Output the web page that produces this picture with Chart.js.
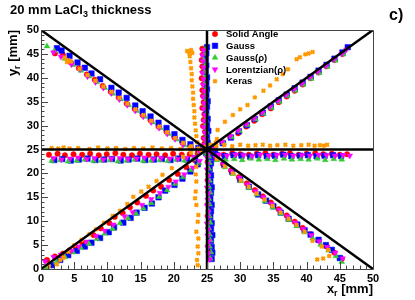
<!DOCTYPE html>
<html>
<head>
<meta charset="utf-8">
<script src="https://cdn.jsdelivr.net/npm/chart.js@4.4.1/dist/chart.umd.min.js"></script>
<style>
  html, body { margin: 0; padding: 0; background: #fff; }
  canvas { display: block; }
</style>
</head>
<body>
<canvas id="chart" width="415" height="300"></canvas>
<script>
// reconstructed positions [x, y] in mm
const solidAngle = [
  [1.2,23.9],[2.5,24.1],[3.6,23.8],[4.9,24.0],[6.2,23.9],[7.4,24.1],[8.7,23.8],[9.9,24.0],[11.2,24.2],[12.4,23.9],[13.7,23.8],[14.9,24.1],[16.2,23.9],[17.4,24.0],[18.7,23.8],[19.9,24.1],[21.2,23.9],[22.4,24.0],[23.6,24.2],
  [26.3,24.1],[27.5,23.9],[28.8,24.2],[30.0,24.0],[31.3,23.9],[32.5,24.1],[33.8,24.2],[35.0,23.9],[36.3,24.1],[37.5,24.2],[38.8,23.9],[40.0,24.1],[41.3,24.2],[42.5,24.0],[43.8,24.1],[45.0,23.9],[46.1,24.0],
  [24.6,26.2],[24.5,27.4],[24.7,28.7],[24.4,29.9],[24.5,31.2],[24.6,32.4],[24.3,33.7],[24.5,34.9],[24.4,36.2],[24.3,37.4],[24.5,38.7],[24.2,39.9],[24.4,41.2],[24.3,42.4],[24.2,43.7],[24.4,44.9],[24.3,46.1],
  [25.2,23.6],[25.1,22.4],[25.3,21.1],[25.2,19.9],[25.1,18.6],[25.3,17.4],[25.2,16.1],[25.4,14.9],[25.2,13.6],[25.3,12.4],[25.1,11.1],[25.3,9.9],[25.2,8.6],[25.4,7.4],[25.3,6.1],[25.2,4.9],[25.4,3.6],[25.3,2.4],
  [26.0,25.4],[27.3,26.4],[28.5,27.6],[29.7,28.4],[30.9,29.8],[32.1,31.0],[33.3,32.4],[34.6,33.6],[35.8,34.9],[37.0,36.1],[38.2,37.3],[39.4,38.6],[40.6,39.9],[41.8,41.1],[43.0,42.4],[44.2,43.7],[45.4,45.0],
  [0.9,1.9],[2.1,2.6],[3.3,3.2],[4.3,3.9],[5.2,4.6],[6.2,5.5],[7.9,7.1],[9.0,8.5],[10.3,9.6],[11.1,10.9],[12.3,11.7],[13.4,12.9],[14.5,13.9],[15.8,15.3],[16.9,16.4],[18.1,17.2],[19.3,18.6],[20.6,19.9],[21.9,21.3],[23.2,22.7],
  [2.1,45.1],[3.3,44.8],[4.5,43.2],[5.7,42.0],[6.9,40.7],[8.1,39.6],[9.3,38.3],[10.5,37.1],[11.7,35.9],[12.9,34.6],[14.1,33.5],[15.3,32.2],[16.5,31.1],[17.7,29.8],[18.9,28.7],[20.1,27.5],[21.3,26.4],[22.5,25.6],[23.7,24.9],
  [26.2,23.4],[27.4,22.0],[28.6,20.6],[29.8,19.2],[31.0,17.9],[32.2,16.5],[33.4,15.2],[34.6,13.9],[35.8,12.5],[37.0,11.2],[38.2,9.9],[39.4,8.6],[40.6,7.3],[41.8,6.0],[43.0,4.7],[44.2,3.4],[45.3,2.1],
  [24.8,24.6],[25.3,24.4],[24.6,25.3]
];
const gauss = [
  [2.0,22.8],[3.2,23.0],[4.5,22.7],[5.7,22.9],[7.0,23.1],[8.2,22.8],[9.5,22.9],[10.7,23.0],[12.0,22.7],[13.2,22.9],[14.5,23.1],[15.7,22.8],[17.0,22.9],[18.2,23.0],[19.5,22.8],[20.7,23.1],[22.0,22.9],[23.2,23.2],
  [26.5,23.8],[27.7,23.6],[29.0,23.8],[30.2,23.7],[31.5,23.5],[32.7,23.8],[34.0,23.6],[35.2,23.7],[36.5,23.9],[37.7,23.6],[39.0,23.7],[40.2,23.8],[41.5,23.6],[42.7,23.7],[44.0,23.8],[45.2,23.6],
  [25.1,26.4],[25.0,27.6],[25.2,28.9],[25.0,30.1],[25.1,31.4],[24.9,32.6],[25.0,33.9],[25.1,35.1],[24.9,36.4],[25.0,37.6],[24.9,38.9],[25.0,40.1],[24.8,41.4],[24.9,42.6],[24.8,43.9],[24.9,45.1],[25.0,46.4],
  [25.5,23.4],[25.6,22.1],[25.4,20.9],[25.6,19.6],[25.5,18.4],[25.7,17.1],[25.6,15.9],[25.5,14.6],[25.7,13.4],[25.6,12.1],[25.5,10.9],[25.7,9.6],[25.6,8.4],[25.8,7.1],[25.6,5.9],[25.7,4.6],[25.8,3.4],[25.7,2.1],
  [26.2,25.0],[27.4,26.3],[28.6,27.5],[29.8,28.8],[31.0,30.1],[32.2,31.4],[33.4,32.7],[34.6,34.0],[35.8,35.3],[37.0,36.5],[38.2,37.8],[39.4,39.0],[40.6,40.2],[41.8,41.5],[43.0,42.7],[44.2,44.0],[45.4,45.3],[46.2,46.4],
  [1.6,0.8],[2.9,1.9],[4.1,2.9],[5.4,3.8],[6.6,4.7],[7.6,5.5],[8.9,6.5],[10.2,7.7],[11.0,8.7],[12.4,9.7],[13.5,10.7],[14.4,11.8],[15.6,12.8],[16.7,13.7],[17.7,15.0],[18.7,16.4],[20.1,17.6],[21.3,18.9],[22.5,20.4],[23.6,21.9],
  [2.4,46.2],[3.1,45.7],[4.3,44.6],[5.5,43.2],[6.6,42.1],[7.6,40.9],[8.9,39.7],[10.6,37.9],[11.7,36.9],[12.9,35.8],[14.2,34.2],[15.3,33.0],[16.5,31.9],[17.7,30.6],[18.9,29.5],[20.1,28.2],[21.3,27.0],[22.5,26.1],[23.7,25.3],
  [26.4,23.2],[27.6,21.8],[28.8,20.3],[30.0,18.7],[31.3,17.2],[32.7,15.6],[33.9,14.3],[35.0,13.1],[36.1,11.8],[37.3,10.5],[38.6,9.3],[39.7,8.1],[40.6,7.2],[41.8,6.1],[42.9,5.0],[43.8,4.0],[45.0,2.3],
  [25.2,25.1],[24.9,24.2]
];
const gaussRho = [
  [1.6,22.6],[2.9,22.8],[4.1,22.5],[5.4,22.7],[6.6,22.9],[7.9,22.6],[9.1,22.7],[10.4,22.8],[11.6,22.5],[12.9,22.7],[14.1,22.9],[15.4,22.6],[16.6,22.7],[17.9,22.8],[19.1,22.6],[20.4,22.9],[21.6,22.7],[22.9,23.0],
  [26.6,23.1],[27.8,22.9],[29.1,23.0],[30.3,22.8],[31.6,23.1],[32.8,22.9],[34.1,23.0],[35.3,22.8],[36.6,23.1],[37.8,22.9],[39.1,23.0],[40.3,22.9],[41.6,23.1],[42.8,22.8],[44.1,23.0],[45.3,22.9],
  [24.9,26.3],[24.8,27.5],[24.9,28.8],[24.7,30.0],[24.8,31.3],[24.9,32.5],[24.7,33.8],[24.8,35.0],[24.7,36.3],[24.8,37.5],[24.6,38.8],[24.7,40.0],[24.6,41.3],[24.7,42.5],[24.5,43.8],[24.6,45.0],[24.7,45.9],
  [25.3,23.5],[25.4,22.2],[25.3,21.0],[25.2,19.7],[25.4,18.5],[25.3,17.2],[25.5,16.0],[25.3,14.7],[25.4,13.5],[25.2,12.2],[25.4,11.0],[25.5,9.7],[25.3,8.5],[25.4,7.2],[25.5,6.0],[25.4,4.7],[25.6,3.5],[25.5,2.2],
  [26.3,25.2],[27.5,26.4],[28.7,27.6],[29.9,28.9],[31.1,30.1],[32.3,31.3],[33.5,32.5],[34.7,33.7],[35.9,35.0],[37.1,36.2],[38.3,37.3],[39.5,38.6],[40.7,39.8],[41.9,41.0],[43.1,42.3],[44.3,43.6],[45.5,44.9],
  [0.9,0.3],[2.3,1.4],[3.6,2.5],[4.8,3.5],[6.0,4.4],[7.2,5.3],[8.4,6.3],[9.6,7.4],[10.8,8.4],[11.9,9.6],[13.1,10.6],[14.3,11.6],[15.4,12.7],[16.6,13.8],[17.8,15.1],[19.0,16.5],[20.2,17.8],[21.4,19.2],[22.6,20.7],[23.8,22.2],
  [0.9,46.6],[2.0,45.6],[3.6,44.0],[4.8,42.7],[6.0,41.5],[7.2,40.3],[8.4,39.1],[9.6,37.9],[10.8,36.7],[12.0,35.5],[13.2,34.3],[14.4,33.1],[15.6,31.9],[16.8,30.7],[18.0,29.5],[19.2,28.3],[20.4,27.1],[21.6,25.9],[22.8,25.1],[23.9,24.5],
  [26.5,22.8],[27.7,21.3],[28.9,19.9],[30.1,18.4],[31.3,17.0],[32.5,15.6],[33.7,14.2],[34.9,12.9],[36.1,11.6],[37.3,10.3],[38.5,9.0],[39.7,7.7],[40.9,6.4],[42.1,5.1],[43.3,3.9],[44.4,2.7],[45.3,1.5],
  [25.0,24.0],[24.5,24.4]
];
const lorentzRho = [
  [1.9,23.2],[3.1,22.9],[4.4,23.1],[5.6,23.3],[6.9,23.0],[8.1,23.2],[9.4,22.9],[10.6,23.1],[11.9,23.2],[13.1,23.0],[14.4,23.1],[15.6,23.3],[16.9,23.0],[18.1,23.2],[19.4,23.1],[20.6,23.0],[21.9,23.2],[23.1,23.4],
  [26.8,23.9],[28.0,23.7],[29.3,23.9],[30.5,23.8],[31.8,23.6],[33.0,23.9],[34.3,23.7],[35.5,23.8],[36.8,23.9],[38.0,23.7],[39.3,23.8],[40.5,23.7],[41.8,23.9],[43.0,23.8],[44.3,23.7],[45.5,23.8],[46.5,23.7],
  [24.7,26.0],[24.6,27.2],[24.7,28.5],[24.5,29.7],[24.6,31.0],[24.7,32.2],[24.5,33.5],[24.6,34.7],[24.4,36.0],[24.6,37.2],[24.4,38.5],[24.5,39.7],[24.3,41.0],[24.5,42.2],[24.4,43.5],[24.3,44.7],[24.5,45.8],
  [25.0,23.3],[25.1,22.0],[25.0,20.8],[25.2,19.5],[25.1,18.3],[25.0,17.0],[25.2,15.8],[25.1,14.5],[25.0,13.3],[25.2,12.0],[25.1,10.8],[25.0,9.5],[25.2,8.3],[25.1,7.0],[25.3,5.8],[25.1,4.5],[25.2,3.3],[25.4,2.0],
  [26.1,25.3],[27.3,26.6],[28.5,27.8],[29.7,29.0],[30.9,30.3],[32.1,31.5],[33.3,32.7],[34.5,34.0],[35.7,35.2],[36.9,36.4],[38.1,37.6],[39.3,38.8],[40.5,40.1],[41.7,41.3],[42.9,42.5],[44.1,43.8],[45.3,45.0],[46.0,45.9],
  [0.6,1.6],[1.9,2.5],[3.0,3.0],[4.6,3.8],[5.7,4.7],[6.8,5.7],[8.3,6.9],[9.6,8.0],[10.9,9.3],[12.6,11.0],[13.8,11.9],[15.2,13.4],[16.6,14.6],[17.9,15.9],[19.2,17.2],[20.3,18.3],[21.6,19.8],[22.9,21.2],[23.9,22.6],
  [1.9,45.3],[3.0,44.4],[4.6,42.8],[5.9,41.8],[7.0,40.3],[8.2,39.1],[9.4,37.9],[10.6,36.8],[11.8,35.5],[13.0,34.3],[14.2,33.1],[15.4,31.9],[16.6,30.7],[17.8,29.5],[19.0,28.3],[20.2,27.2],[21.4,26.0],[22.6,25.2],[23.8,24.7],
  [26.3,23.3],[27.5,21.9],[28.7,20.5],[29.9,19.1],[31.1,17.7],[32.3,16.3],[33.5,15.0],[34.7,13.6],[35.9,12.3],[37.1,11.0],[38.3,9.7],[39.5,8.4],[40.7,7.1],[41.9,5.8],[43.1,4.6],[44.3,3.4],[45.4,2.2],
  [24.6,24.8],[25.4,24.5]
];
const keras = [
  [1.6,25.3],[2.6,25.2],[3.4,25.4],[4.3,25.2],[5.6,25.3],[7.3,25.1],[8.6,25.4],[10.0,25.2],[11.3,25.3],[12.7,25.1],[14.0,25.3],[15.4,25.2],[16.8,25.4],[18.2,25.2],[19.6,25.3],[21.0,25.1],[22.4,25.3],[23.7,25.2],
  [26.4,25.8],[27.6,25.9],[28.8,25.7],[30.0,26.0],[31.2,25.8],[32.3,25.9],[33.4,26.0],[34.5,25.8],[35.6,25.9],[36.8,26.0],[38.0,25.8],[39.2,25.9],[40.3,26.0],[41.2,25.8],[42.0,25.9],[42.6,25.8],[43.1,26.0],
  [23.5,26.5],[23.4,27.8],[23.3,29.0],[23.2,30.4],[23.1,31.7],[23.1,33.0],[23.0,34.3],[22.9,35.6],[22.9,36.9],[22.8,38.2],[22.7,39.5],[22.7,40.8],[22.6,42.0],[22.5,43.3],[22.4,44.5],[22.3,45.3],[22.0,45.6],[22.6,45.8],[22.8,45.2],
  [23.4,21.4],[23.3,19.8],[23.4,18.3],[23.3,16.2],[23.2,14.8],[23.4,13.4],[23.7,11.3],[23.6,9.9],[23.4,7.8],[23.7,6.4],[23.6,4.7],[23.7,3.3],[23.5,1.9],[23.6,0.8],
  [26.3,26.4],[26.5,27.2],[26.6,29.1],[27.7,30.8],[28.9,32.2],[30.0,33.4],[31.1,34.3],[32.2,35.9],[33.5,37.3],[34.5,38.4],[35.5,39.7],[36.4,40.8],[37.2,41.8],[38.5,43.9],[39.0,44.3],[39.8,44.9],[40.3,45.1],[40.9,45.4],
  [1.2,0.6],[2.4,1.0],[2.9,1.9],[3.4,2.4],[4.1,3.6],[5.0,5.0],[6.1,6.1],[7.3,7.3],[8.3,8.3],[9.5,9.7],[10.8,11.1],[11.9,12.2],[13.0,13.6],[13.9,15.1],[15.1,16.2],[16.2,17.2],[17.4,18.4],[18.3,19.7],[19.7,21.1],[21.4,23.5],[22.6,24.3],
  [3.6,44.2],[4.1,43.7],[4.5,43.4],[3.9,43.3],[5.8,41.9],[7.0,40.6],[8.2,39.4],[9.4,38.2],[10.6,37.1],[11.8,35.8],[13.0,34.6],[14.2,33.4],[15.4,32.2],[16.6,31.0],[17.8,29.8],[19.0,28.6],[20.2,27.4],[21.4,26.4],[22.6,25.7],
  [26.5,23.0],[27.7,21.5],[28.9,20.0],[30.1,18.5],[31.3,17.2],[32.5,15.8],[33.7,14.5],[34.9,13.2],[36.1,11.8],[37.3,10.5],[38.5,9.2],[39.7,7.8],[40.9,5.9],[42.3,4.7],[43.3,4.0],[43.4,2.7],[42.5,2.2],[41.6,2.0],
  [24.8,25.6],[25.6,26.0],[24.2,24.8]
];
// black reference lines
const refLines = [
  [[0, 0], [50, 50]],
  [[0, 50], [50, 0]],
  [[0, 25], [50, 25]],
  [[25, 0], [25, 50]]
];
const tickValues = [0, 5, 10, 15, 20, 25, 30, 35, 40, 45, 50];

const FONT = '"Liberation Sans", Arial, Helvetica, sans-serif';
const pts = a => a.map(p => ({ x: p[0], y: p[1] }));

const series = [
  { label: 'Solid Angle', data: solidAngle, color: '#ff0000', style: 'circle', radius: 2.7, rotation: 0 },
  { label: 'Gauss', data: gauss, color: '#0000ff', style: 'rect', radius: 3.9, rotation: 0 },
  { label: 'Gauss(\u03c1)', data: gaussRho, color: '#33cc33', style: 'triangle', radius: 3.3, rotation: 0 },
  { label: 'Lorentzian(\u03c1)', data: lorentzRho, color: '#ff00ff', style: 'triangle', radius: 3.3, rotation: 180 },
  { label: 'Keras', data: keras, color: '#ff9900', style: 'crossRot', radius: 2.4, rotation: 0 }
];

const datasets = refLines.map(l => ({
  type: 'line',
  data: pts(l),
  borderColor: '#000',
  borderWidth: 2.5,
  pointRadius: 0,
  order: 0
}));
series.forEach((s, i) => {
  datasets.push({
    label: s.label,
    data: pts(s.data),
    pointStyle: s.style,
    pointRadius: s.radius,
    pointRotation: s.rotation,
    backgroundColor: s.color,
    borderColor: s.color,
    pointBorderWidth: s.style === 'crossRot' ? 2.2 : 0.5,
    order: 10 - i
  });
});

// ROOT-like inner ticks, frame, titles and legend
const decor = {
  id: 'decor',
  afterDatasetsDraw(chart) {
    const ctx = chart.ctx;
    const a = chart.chartArea;
    const xs = chart.scales.x, ys = chart.scales.y;
    ctx.save();
    ctx.strokeStyle = '#444';
    ctx.lineWidth = 1;
    ctx.beginPath();
    ctx.rect(Math.round(a.left) + 0.5, Math.round(a.top) + 0.5, Math.round(a.right - a.left), Math.round(a.bottom - a.top));
    ctx.stroke();
    ctx.beginPath();
    for (let v = 0; v <= 50; v++) {
      const len = v % 5 === 0 ? 7 : 3.5;
      const px = Math.round(xs.getPixelForValue(v)) + 0.5;
      ctx.moveTo(px, a.bottom);
      ctx.lineTo(px, a.bottom - len);
      const py = Math.round(ys.getPixelForValue(v)) + 0.5;
      ctx.moveTo(a.left, py);
      ctx.lineTo(a.left + len, py);
    }
    ctx.stroke();
    ctx.restore();
  },
  afterDraw(chart) {
    const ctx = chart.ctx;
    const a = chart.chartArea;
    ctx.save();
    ctx.fillStyle = '#000';
    ctx.textBaseline = 'alphabetic';

    // title with subscript
    let x = 10;
    ctx.font = 'bold 13px ' + FONT;
    ctx.fillText('20 mm LaCl', x, 14);
    x += ctx.measureText('20 mm LaCl').width;
    ctx.font = 'bold 9px ' + FONT;
    ctx.fillText('3', x, 17);
    x += ctx.measureText('3').width;
    ctx.font = 'bold 13px ' + FONT;
    ctx.fillText(' thickness', x, 14);

    ctx.font = 'bold 16px ' + FONT;
    ctx.fillText('c)', 389, 20);

    // axis titles, right aligned to the frame
    const drawSub = (main, sub, rest, xr, y) => {
      ctx.font = 'bold 13px ' + FONT;
      const w1 = ctx.measureText(main).width;
      const w3 = ctx.measureText(rest).width;
      ctx.font = 'bold 9px ' + FONT;
      const w2 = ctx.measureText(sub).width;
      let xx = xr - (w1 + w2 + w3);
      ctx.font = 'bold 13px ' + FONT;
      ctx.fillText(main, xx, y);
      xx += w1;
      ctx.font = 'bold 9px ' + FONT;
      ctx.fillText(sub, xx, y + 3);
      xx += w2;
      ctx.font = 'bold 13px ' + FONT;
      ctx.fillText(rest, xx, y);
    };
    drawSub('x', 'r', ' [mm]', a.right, 293);
    ctx.save();
    ctx.translate(17, a.top);
    ctx.rotate(-Math.PI / 2);
    drawSub('y', 'r', ' [mm]', 0, 0);
    ctx.restore();

    // legend
    const lx = 215, tx = 226, y0 = 34, dy = 11.8;
    series.forEach((s, i) => {
      const y = y0 + i * dy;
      ctx.fillStyle = s.color;
      ctx.strokeStyle = s.color;
      ctx.lineWidth = s.style === 'crossRot' ? 2.2 : 0.5;
      Chart.helpers.drawPoint(ctx, { pointStyle: s.style, rotation: s.rotation, radius: s.radius, borderWidth: ctx.lineWidth }, lx, y);
      ctx.fillStyle = '#000';
      ctx.font = 'bold 9.5px ' + FONT;
      ctx.textBaseline = 'middle';
      ctx.fillText(s.label, tx, y + 0.5);
    });
    ctx.restore();
  }
};

const axisCommon = {
  type: 'linear',
  min: 0,
  max: 50,
  grid: { display: false, drawTicks: false },
  border: { display: false },
  afterBuildTicks: s => { s.ticks = tickValues.map(v => ({ value: v })); }
};

new Chart(document.getElementById('chart'), {
  type: 'scatter',
  data: { datasets: datasets },
  options: {
    responsive: false,
    animation: false,
    layout: { padding: { top: 30, right: 42, left: 0, bottom: 0 } },
    plugins: { legend: { display: false }, tooltip: { enabled: false } },
    scales: {
      x: Object.assign({}, axisCommon, {
        position: 'bottom',
        ticks: { padding: 3, color: '#000', font: { family: FONT, size: 11, weight: 'bold' } },
        afterFit: s => { s.height = 31; }
      }),
      y: Object.assign({}, axisCommon, {
        position: 'left',
        ticks: { padding: 2, color: '#000', font: { family: FONT, size: 11, weight: 'bold' } },
        afterFit: s => { s.width = 41; }
      })
    }
  },
  plugins: [decor]
});
</script>
</body>
</html>
